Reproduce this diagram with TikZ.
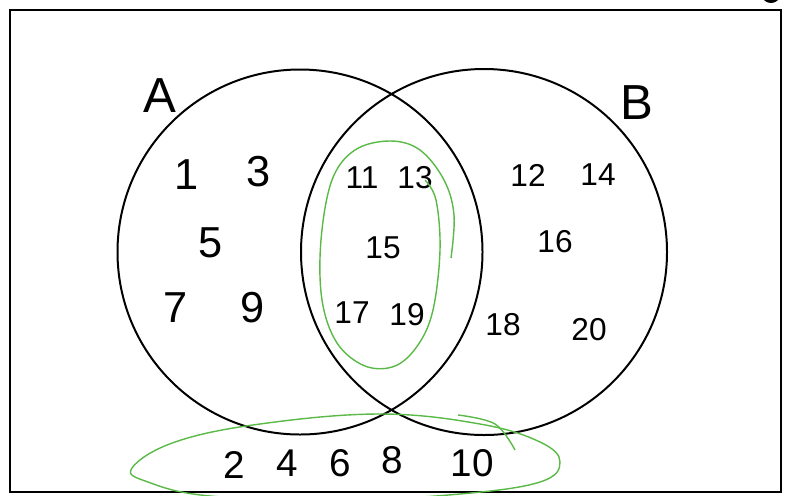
\documentclass[tikz,border=0pt]{standalone}
\usepackage{fontspec}
\setmainfont{Liberation Sans}
\usepackage{tikz}
\definecolor{pengreen}{HTML}{5AB947}

\begin{document}
\begin{tikzpicture}[
    x=0.03cm, y=-0.03cm,
    setcircle/.style={draw=black, line width=1.7pt},
    frame/.style={draw=black, line width=1.8pt},
    greenloop/.style={draw=pengreen, line width=1.2pt},
    setlabel/.style={font=\fontsize{42}{46}\selectfont},
    bignum/.style={font=\fontsize{37}{40}\selectfont},
    midnum/.style={font=\fontsize{33}{36}\selectfont},
    smallnum/.style={font=\fontsize{27}{30}\selectfont},
  ]
  \useasboundingbox (0,0) rectangle (794,495);
  \clip (0,0) rectangle (794,495);

  % Universe and sets
  \draw[frame] (10,10) rectangle (781,492);
  \fill (771,-5) ellipse (9 and 8);
  \node[setcircle, circle, minimum size=365*0.03cm, inner sep=0pt] (setA) at (300,252) {};
  \node[setcircle, circle, minimum size=366*0.03cm, inner sep=0pt] (setB) at (484,252) {};
  \node[setlabel] (labA) at (160,96) {A};
  \node[setlabel] (labB) at (637,103) {B};

  % A only
  \node[bignum] (n1) at (187,175) {1};
  \node[bignum] (n3) at (259,172) {3};
  \node[bignum] (n5) at (211,243) {5};
  \node[bignum] (n7) at (176,308) {7};
  \node[bignum] (n9) at (253,308) {9};

  % A and B
  \node[smallnum] (n11) at (362,178) {11};
  \node[smallnum] (n13) at (415,178) {13};
  \node[smallnum] (n15) at (383,248) {15};
  \node[smallnum] (n17) at (352,313) {17};
  \node[smallnum] (n19) at (407,315) {19};

  % B only
  \node[smallnum] (n12) at (528,175) {12};
  \node[smallnum] (n14) at (598,175) {14};
  \node[smallnum] (n16) at (555,242) {16};
  \node[smallnum] (n18) at (503,325) {18};
  \node[smallnum] (n20) at (589,330) {20};

  % outside
  \node[midnum] (n2) at (234,465) {2};
  \node[midnum] (n4) at (287,463) {4};
  \node[midnum] (n6) at (340,463) {6};
  \node[midnum] (n8) at (392,460) {8};
  \node[midnum] (n10) at (472,463) {10};

  % green loops
  \draw[greenloop] plot[smooth, tension=0.6] coordinates {(451,258) (454,215) (444,180) (420,150) (390,141) (355,150) (332,180) (321,240) (322,300) (337,343) (365,366) (395,366) (418,345) (433,310) (440,250) (436,200) (425,180)};
  \draw[greenloop] plot[smooth cycle, tension=0.65] coordinates {(132,468) (175,442) (260,424) (380,414) (480,424) (540,442) (560,462) (540,482) (460,494) (340,500) (210,496) (148,482)};
  \draw[greenloop] plot[smooth, tension=0.6] coordinates {(458,415) (495,424) (515,450)};
\end{tikzpicture}
\end{document}
